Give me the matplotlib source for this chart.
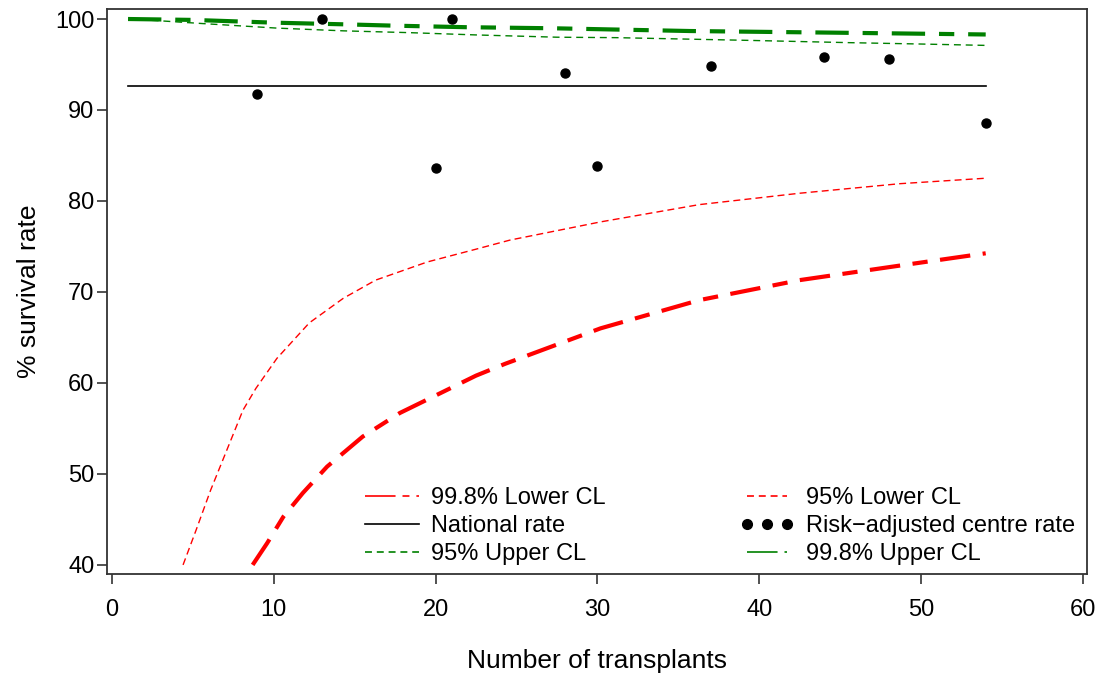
import matplotlib
matplotlib.use("Agg")
import matplotlib.pyplot as plt
from matplotlib.lines import Line2D

plt.rcParams['font.family'] = ['Liberation Sans', 'DejaVu Sans']
plt.rcParams['lines.scale_dashes'] = False

# Centre data
centre_n = [9, 13, 20, 21, 28, 30, 37, 44, 48, 54]
centre_rate = [91.8, 100.0, 83.6, 100.0, 94.1, 83.8, 94.8, 95.8, 95.6, 88.6]

# National rate
national_n = [1, 54]
national_rate = [92.6, 92.6]

# 95% lower control limit
lo95_n = [4.4, 5.2, 6.1, 7.1, 8.1, 8.9, 10.2, 12.2, 14.3, 16.3, 19.5, 22.5, 24.6, 30.2, 36.3, 42.5, 48.7, 54]
lo95_v = [40.0, 43.8, 48.2, 52.6, 57.0, 59.4, 62.7, 66.6, 69.3, 71.3, 73.3, 74.7, 75.7, 77.7, 79.6, 80.85, 81.9, 82.5]

# 99.8% lower control limit
lo998_n = [8.7, 9.6, 10.6, 11.8, 13.3, 15.5, 17.8, 20.5, 22.5, 24.3, 30.2, 36.3, 42.5, 48.7, 54]
lo998_v = [40.0, 42.4, 45.3, 47.9, 50.8, 54.1, 56.7, 59.05, 60.8, 62.1, 66.0, 69.1, 71.3, 72.9, 74.25]

# 95% upper control limit
up95_n = [1, 3, 5.6, 10.2, 14.3, 18.4, 22.5, 27.5, 31.2, 35.3, 39.4, 45.6, 50, 54]
up95_v = [100.0, 99.8, 99.5, 99.0, 98.7, 98.5, 98.25, 98.0, 97.95, 97.8, 97.65, 97.4, 97.25, 97.1]

# 99.8% upper control limit
up998_n = [1, 5, 10, 14.7, 17.4, 21.9, 27.3, 35.7, 44.6, 54]
up998_v = [100.0, 99.9, 99.6, 99.4, 99.27, 99.1, 98.98, 98.68, 98.5, 98.3]

x_ticks = [0, 10, 20, 30, 40, 50, 60]
y_ticks = [40, 50, 60, 70, 80, 90, 100]

fig = plt.figure(figsize=(11.01, 6.75), dpi=100)
ax = fig.add_axes([107/1101, 1-574/675, (1087-107)/1101, (574-9)/675])

red = '#ff0000'
green = '#008000'

l_lo998, = ax.plot(lo998_n, lo998_v, color=red, lw=3.0, dashes=(22, 9, 11, 9))
l_lo95, = ax.plot(lo95_n, lo95_v, color=red, lw=1.0, dashes=(5, 3))
l_nat, = ax.plot(national_n, national_rate, color='black', lw=1.2)
l_up95, = ax.plot(up95_n, up95_v, color=green, lw=1.0, dashes=(5, 3.5))
l_up998, = ax.plot(up998_n, up998_v, color=green, lw=3.0, dashes=(24, 10, 11, 10))
l_pts, = ax.plot(centre_n, centre_rate, linestyle='none', marker='o', color='black', markersize=6.5)

ax.set_xlim(-0.3, 60.26)
ax.set_ylim(39.0, 101.1)
ax.set_xticks(x_ticks)
ax.set_yticks(y_ticks)
ax.tick_params(axis='both', direction='out', length=7, width=1.2, labelsize=17, color='#333333')
ax.tick_params(axis='x', pad=11)
ax.tick_params(axis='y', pad=2)
for s in ax.spines.values():
    s.set_linewidth(1.3)
    s.set_color('#333333')

ax.set_xlabel('Number of transplants', fontsize=19, labelpad=20)
ax.set_ylabel('% survival rate', fontsize=19, labelpad=10)

h1 = [Line2D([], [], color=red, lw=1.2, dashes=(22, 5, 5, 5)),
      Line2D([], [], color='black', lw=1.2),
      Line2D([], [], color=green, lw=1.2, dashes=(5, 3.5))]
leg_kw = dict(loc='upper left', frameon=False, fontsize=17, handlelength=2.3,
              handletextpad=0.5, labelspacing=0.25, borderpad=0, borderaxespad=0)
leg1 = ax.legend(h1, ['99.8% Lower CL', 'National rate', '95% Upper CL'],
                 bbox_to_anchor=((365-107)/980, (574-487)/565), **leg_kw)
ax.add_artist(leg1)
h2 = [Line2D([], [], color=red, lw=1.2, dashes=(5, 3.5)),
      Line2D([], [], linestyle='none', marker='o', color='black', markersize=7),
      Line2D([], [], color=green, lw=1.2, dashes=(22, 5, 5, 5))]
ax.legend(h2, ['95% Lower CL', 'Risk\u2212adjusted centre rate', '99.8% Upper CL'],
          bbox_to_anchor=((740-107)/980, (574-487)/565), numpoints=3, **leg_kw)

fig.savefig('out.png', dpi=100)
